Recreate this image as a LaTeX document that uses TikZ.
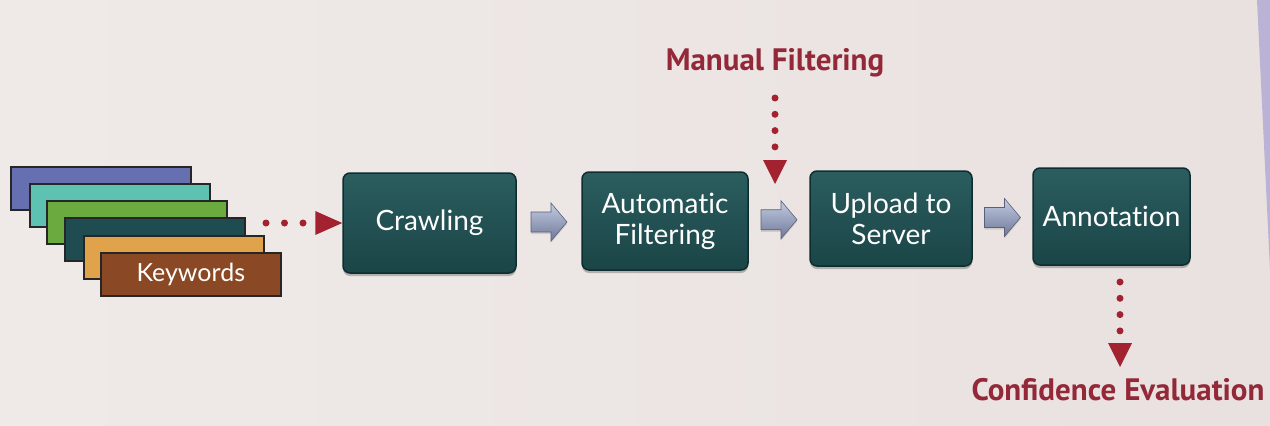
\documentclass[tikz,border=0pt]{standalone}
\usepackage{fontspec}
\setmainfont{Lato}[Ligatures=NoCommon]
\newfontfamily\labelfont{PT Sans}
\usetikzlibrary{calc,shadows,arrows.meta}
\definecolor{bgA}{HTML}{EFEAE8}
\definecolor{bgB}{HTML}{E9E1DF}
\definecolor{boxtop}{HTML}{2B5D5F}
\definecolor{boxbot}{HTML}{1B4547}
\definecolor{boxline}{HTML}{0E2D2F}
\definecolor{redc}{HTML}{A2222F}
\definecolor{redtxt}{HTML}{932839}
\definecolor{arrtop}{HTML}{C4CCE2}
\definecolor{arrbot}{HTML}{6E7898}
\definecolor{kwA}{HTML}{6670B0}
\definecolor{kwB}{HTML}{5EC2B2}
\definecolor{kwC}{HTML}{6AAA3E}
\definecolor{kwD}{HTML}{1E4C51}
\definecolor{kwE}{HTML}{E0A24A}
\definecolor{kwF}{HTML}{8A4824}
\definecolor{edge}{HTML}{BAB3D6}
\tikzset{
  kwbox/.style={draw=black!85, line width=1.6pt, minimum width=180pt, minimum height=43pt, inner sep=0pt, anchor=north west},
  stepbox/.style={rounded corners=7pt, draw=boxline, line width=1.5pt, top color=boxtop, bottom color=boxbot,
    text=white, align=center, inner sep=0pt, font=\fontsize{28}{31}\selectfont,
    drop shadow={shadow xshift=0pt, shadow yshift=-3pt, opacity=0.35, fill=black!70}},
  redlabel/.style={text=redtxt, font=\labelfont\bfseries\fontsize{31}{36}\selectfont, inner sep=0pt},
  reddots/.style={draw=redc, line width=7pt, line cap=round, dash pattern=on 0pt off 16.3pt,
    -{Triangle[length=24pt,width=24pt,line width=0pt,fill=redc]}},
  reddotsh/.style={draw=redc, line width=7pt, line cap=round, dash pattern=on 0pt off 18.5pt,
    -{Triangle[length=27pt,width=24pt,line width=0pt,fill=redc]}},
  barrow/.style={top color=arrtop, bottom color=arrbot, draw=arrbot!80!black, line width=0.6pt,
    drop shadow={shadow xshift=0pt, shadow yshift=-2pt, opacity=0.25}}
}
\newcommand\blockarr[2]{%
  \path[barrow] let \p1=($(#1.east)!0.5!(#2.west)$) in
    (\x1-18pt,\y1+10pt) -- (\x1+2pt,\y1+10pt) -- (\x1+2pt,\y1+19pt) -- (\x1+18pt,\y1) --
    (\x1+2pt,\y1-19pt) -- (\x1+2pt,\y1-10pt) -- (\x1-18pt,\y1-10pt) -- cycle;}
\begin{document}
\begin{tikzpicture}[x=1pt,y=-1pt]
\useasboundingbox (0,0) rectangle (1270,426);
\shade[left color=bgA, right color=bgB] (0,0) rectangle (1270,426);
\fill[edge] (1257,0) -- (1270,0) -- (1270,270) -- cycle;

% keyword stack
\node[kwbox, fill=kwA] (kw1) at (10,166) {};
\node[kwbox, fill=kwB] (kw2) at (29,183) {};
\node[kwbox, fill=kwC] (kw3) at (46,200) {};
\node[kwbox, fill=kwD] (kw4) at (64,217) {};
\node[kwbox, fill=kwE] (kw5) at (83,235) {};
\node[kwbox, fill=kwF, text=white, font=\fontsize{25}{29}\selectfont] (kw6) at (100,252) {Keywords};

% process boxes
\node[stepbox, minimum width=173pt, minimum height=100pt] (crawl) at (429.5,223) {Crawling};
\node[stepbox, minimum width=166pt, minimum height=98pt] (autof) at (665,221) {Automatic\\Filtering};
\node[stepbox, minimum width=162pt, minimum height=95pt] (upload) at (891,218.5) {Upload to\\Server};
\node[stepbox, minimum width=157pt, minimum height=97pt] (annot) at (1111.5,216.5) {Annotation};

% block arrows
\blockarr{crawl}{autof}
\blockarr{autof}{upload}
\blockarr{upload}{annot}

% red labels
\node[redlabel] (mf) at (775,63) {Manual Filtering};
\node[redlabel] (ce) at (1118,390) {Confidence Evaluation};

% red dotted connectors
\coordinate (kwout) at (266,223);
\draw[reddotsh] (kwout) -- (crawl.west);
\coordinate (mfs) at (775,98);
\coordinate (mfe) at (775,184);
\draw[reddots] (mfs) -- (mfe);
\coordinate (ces) at (1120,282);
\coordinate (cee) at (1120,367);
\draw[reddots] (ces) -- (cee);
\end{tikzpicture}
\end{document}
